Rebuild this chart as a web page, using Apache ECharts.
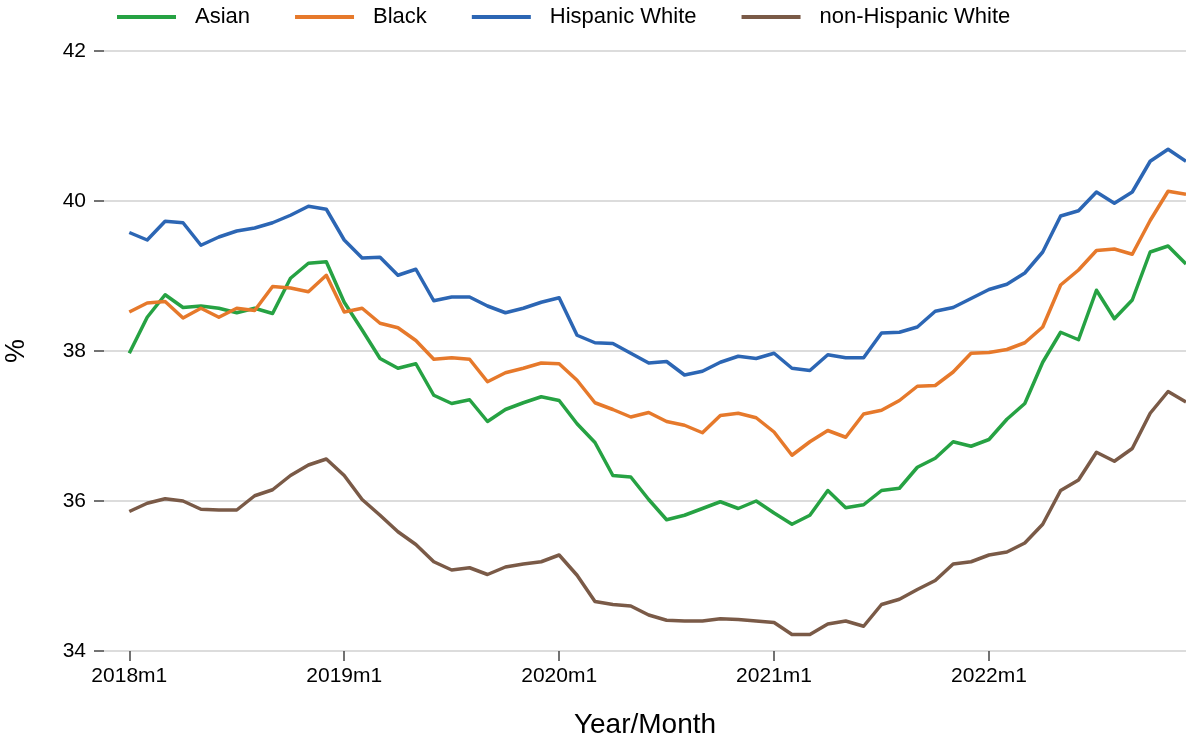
<!DOCTYPE html>
<html>
<head>
<meta charset="utf-8">
<title>Share by group, 2018–2022</title>
<script src="https://cdn.jsdelivr.net/npm/echarts@6/dist/echarts.min.js"></script>
<style>
  html, body { margin: 0; padding: 0; background: #fff; }
  #chart { width: 1186px; height: 741px; }
</style>
</head>
<body>
<div id="chart"></div>
<script>
// Month labels: 2018m1 … 2022m12 (index 0..59)
const months = [];
for (let y = 2018; y <= 2022; y++) {
  for (let m = 1; m <= 12; m++) months.push(y + 'm' + m);
}

// Labelled x ticks (month indices and their text)
const tickIndex = [0, 12, 24, 36, 48];
const tickLabels = ['2018m1', '2019m1', '2020m1', '2021m1', '2022m1'];

// Series names in legend order
const seriesNames = ['Asian', 'Black', 'Hispanic White', 'non-Hispanic White'];

const asian = [
  37.97, 38.45, 38.75, 38.58, 38.60, 38.57, 38.51, 38.57, 38.50, 38.97, 39.17, 39.19,
  38.65, 38.28, 37.90, 37.77, 37.83, 37.41, 37.30, 37.35, 37.06, 37.22, 37.31, 37.39,
  37.34, 37.03, 36.78, 36.34, 36.32, 36.02, 35.75, 35.81, 35.90, 35.99, 35.90, 36.00,
  35.84, 35.69, 35.81, 36.14, 35.91, 35.95, 36.14, 36.17, 36.45, 36.57, 36.79, 36.73,
  36.82, 37.09, 37.30, 37.85, 38.25, 38.15, 38.81, 38.43, 38.68, 39.32, 39.40, 39.16
];
const black = [
  38.52, 38.64, 38.66, 38.44, 38.57, 38.45, 38.57, 38.54, 38.86, 38.84, 38.79, 39.01,
  38.52, 38.57, 38.37, 38.31, 38.14, 37.89, 37.91, 37.89, 37.59, 37.71, 37.77, 37.84,
  37.83, 37.61, 37.31, 37.22, 37.12, 37.18, 37.06, 37.01, 36.91, 37.14, 37.17, 37.11,
  36.92, 36.61, 36.79, 36.94, 36.85, 37.16, 37.21, 37.34, 37.53, 37.54, 37.72, 37.97,
  37.98, 38.02, 38.11, 38.32, 38.88, 39.08, 39.34, 39.36, 39.29, 39.74, 40.13, 40.09
];
const hispanicWhite = [
  39.58, 39.48, 39.73, 39.71, 39.41, 39.52, 39.60, 39.64, 39.71, 39.81, 39.93, 39.89,
  39.48, 39.24, 39.25, 39.01, 39.09, 38.67, 38.72, 38.72, 38.60, 38.51, 38.57, 38.65,
  38.71, 38.21, 38.11, 38.10, 37.97, 37.84, 37.86, 37.68, 37.73, 37.85, 37.93, 37.90,
  37.97, 37.77, 37.74, 37.95, 37.91, 37.91, 38.24, 38.25, 38.32, 38.53, 38.58, 38.70,
  38.82, 38.89, 39.04, 39.32, 39.80, 39.87, 40.12, 39.97, 40.12, 40.53, 40.69, 40.53
];
const nonHispanicWhite = [
  35.86, 35.97, 36.03, 36.00, 35.89, 35.88, 35.88, 36.07, 36.15, 36.34, 36.48, 36.56,
  36.34, 36.02, 35.81, 35.59, 35.42, 35.19, 35.08, 35.11, 35.02, 35.12, 35.16, 35.19,
  35.28, 35.01, 34.66, 34.62, 34.60, 34.48, 34.41, 34.40, 34.40, 34.43, 34.42, 34.40,
  34.38, 34.22, 34.22, 34.36, 34.40, 34.33, 34.62, 34.69, 34.82, 34.94, 35.16, 35.19,
  35.28, 35.32, 35.44, 35.69, 36.14, 36.28, 36.65, 36.53, 36.70, 37.17, 37.46, 37.32
];

const colors = ['#26a243', '#e6792b', '#2c66b4', '#7a5a47'];
const FONT = '"Liberation Sans", Arial, Helvetica, sans-serif';

function pairs(values) {
  return values.map((v, i) => [i, v]);
}

const chart = echarts.init(document.getElementById('chart'), null, { renderer: 'canvas' });

chart.setOption({
  animation: false,
  backgroundColor: '#ffffff',
  color: colors,
  textStyle: { fontFamily: FONT },
  legend: {
    top: 1,
    left: 112,
    icon: 'rect',
    itemWidth: 59,
    itemHeight: 4,
    itemGap: 45,
    textStyle: { fontSize: 22, color: '#000', fontFamily: FONT, padding: [0, 0, 0, 14] },
    data: seriesNames
  },
  grid: {
    left: 104, right: 0, top: 51, bottom: 90,
    containLabel: false,
    outerBoundsMode: 'none'
  },
  xAxis: {
    type: 'value',
    min: -1.4126,
    max: 59,
    name: 'Year/Month',
    nameLocation: 'middle',
    nameGap: 60,
    nameTextStyle: { fontSize: 28, color: '#000', fontFamily: FONT },
    axisLine: { show: false, onZero: false },
    splitLine: { show: false },
    axisTick: {
      show: true,
      customValues: tickIndex,
      length: 10,
      lineStyle: { color: '#444', width: 1.5 }
    },
    axisLabel: {
      customValues: tickIndex,
      margin: 15,
      fontSize: 21,
      color: '#000',
      fontFamily: FONT,
      formatter: v => tickLabels[tickIndex.indexOf(Math.round(v))] || months[Math.round(v)]
    }
  },
  yAxis: {
    type: 'value',
    min: 34,
    max: 42,
    interval: 2,
    name: '%',
    nameLocation: 'middle',
    nameGap: 74,
    nameTextStyle: { fontSize: 27, color: '#000', fontFamily: FONT },
    axisLine: { show: false, onZero: false },
    axisTick: { show: true, length: 10, lineStyle: { color: '#444', width: 1.5 } },
    axisLabel: { margin: 18, fontSize: 21, color: '#000', fontFamily: FONT },
    splitLine: { show: true, lineStyle: { color: '#dcdcdc', width: 2 } }
  },
  series: [asian, black, hispanicWhite, nonHispanicWhite].map((vals, k) => ({
    name: seriesNames[k],
    type: 'line',
    data: pairs(vals),
    showSymbol: false,
    symbol: 'none',
    clip: false,
    lineStyle: { width: 3.5, color: colors[k], join: 'round' },
    itemStyle: { color: colors[k] }
  }))
});
</script>
</body>
</html>
